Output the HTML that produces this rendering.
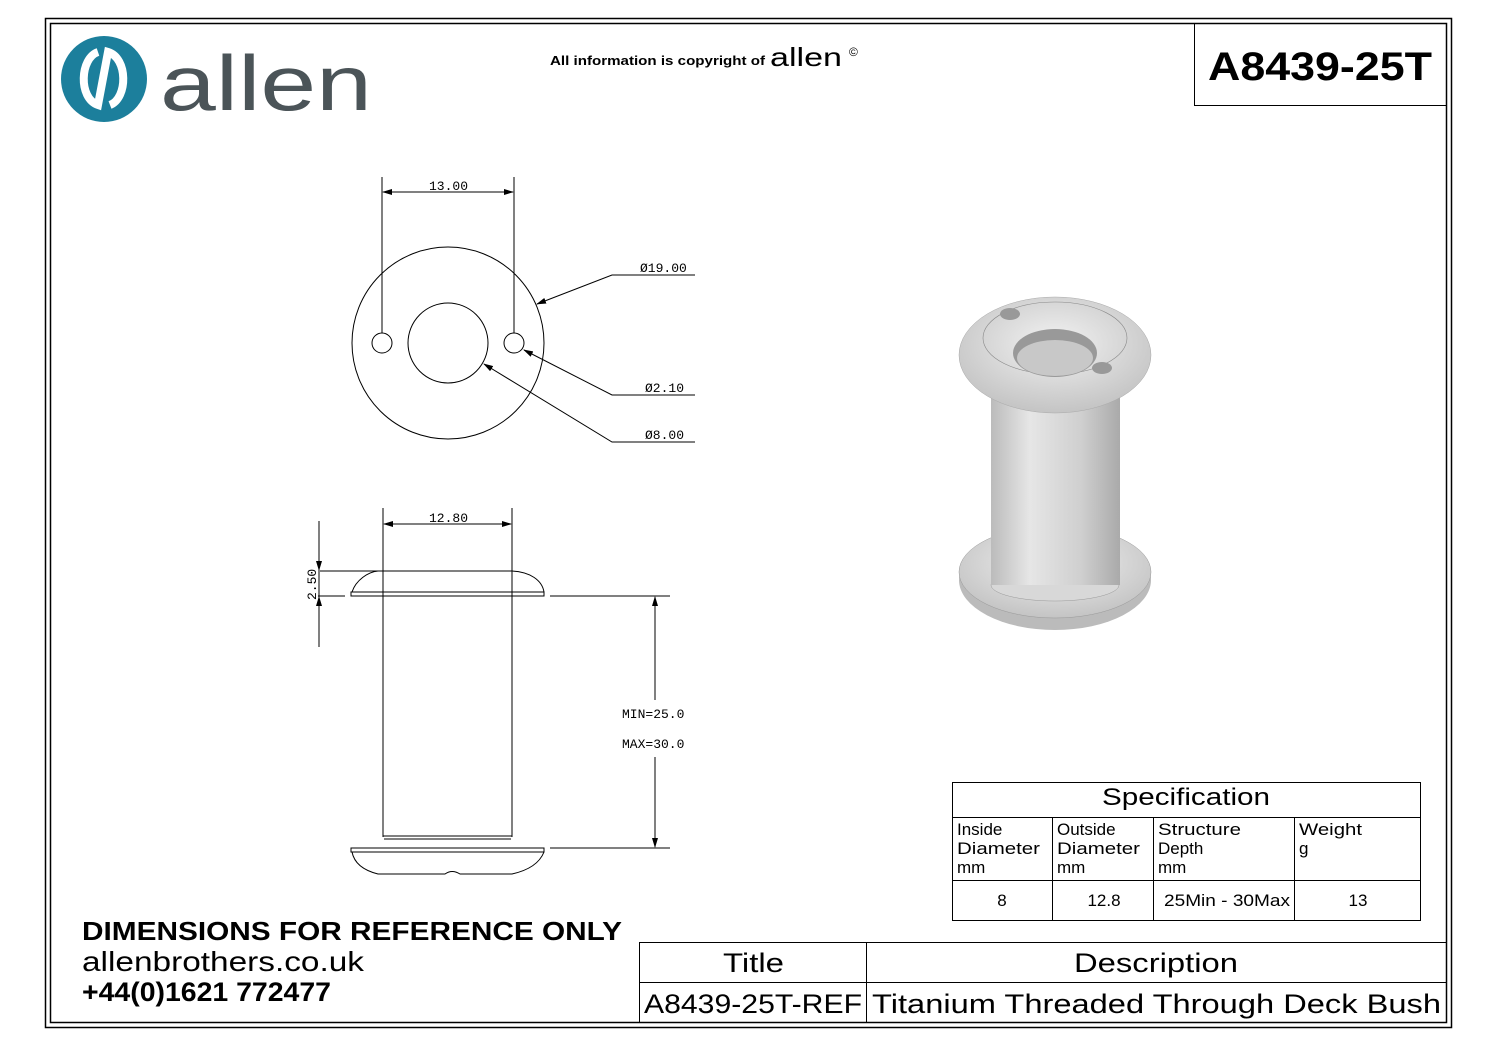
<!DOCTYPE html>
<html><head><style>
body{margin:0;background:#fff;}
svg{display:block;}
.d{font-family:"Liberation Mono",monospace;font-size:13px;}
.s{font-family:"Liberation Sans",sans-serif;}
</style></head><body>
<svg width="1497" height="1058" viewBox="0 0 1497 1058" xmlns="http://www.w3.org/2000/svg">
<defs>
<marker id="a" markerWidth="10" markerHeight="6" refX="9" refY="3" orient="auto" markerUnits="userSpaceOnUse"><path d="M0,0 L10,3 L0,6Z" fill="#000"/></marker>
<linearGradient id="g" x1="0" x2="1"><stop offset="0" stop-color="#bbb"/><stop offset="0.3" stop-color="#e6e6e6"/><stop offset="0.7" stop-color="#cfcfcf"/><stop offset="1" stop-color="#aaa"/></linearGradient>
<radialGradient id="r" cx="0.5" cy="0.4" r="0.6"><stop offset="0" stop-color="#f2f2f2"/><stop offset="1" stop-color="#c4c4c4"/></radialGradient>
</defs>
<rect x="45.5" y="18.5" width="1406" height="1009" fill="none" stroke="#000" stroke-width="1.5"/>
<rect x="50.5" y="23.5" width="1396" height="999" fill="none" stroke="#000" stroke-width="1.5"/>
<!-- logo -->
<circle cx="104" cy="79" r="43" fill="#1c7f9c"/>
<path d="M98,52 C80,58 78,98 98,105 L108,52 C128,58 128,98 110,105" fill="none" stroke="#fff" stroke-width="8"/>
<text x="160" y="110" class="s" font-size="78" fill="#4b5458" textLength="212" lengthAdjust="spacingAndGlyphs">allen</text>
<text x="550" y="65" class="s" font-size="13" font-weight="bold" textLength="215" lengthAdjust="spacingAndGlyphs">All information is copyright of</text>
<text x="770" y="66" class="s" font-size="26" textLength="72" lengthAdjust="spacingAndGlyphs">allen</text>
<text x="849" y="56" class="s" font-size="12">©</text>
<rect x="1194.5" y="23.5" width="252" height="82" fill="none" stroke="#000"/>
<text x="1208" y="80" class="s" font-size="40" font-weight="bold" textLength="224" lengthAdjust="spacingAndGlyphs">A8439-25T</text>
<!-- top view -->
<g fill="none" stroke="#000" stroke-width="1">
<circle cx="448" cy="343" r="96"/>
<circle cx="448" cy="343" r="40"/>
<circle cx="382" cy="343" r="10"/>
<circle cx="514" cy="343" r="10"/>
<line x1="382" y1="177" x2="382" y2="333"/>
<line x1="514" y1="177" x2="514" y2="333"/>
<line x1="383" y1="192" x2="513" y2="192" marker-end="url(#a)"/>
<line x1="513" y1="192" x2="383" y2="192" marker-end="url(#a)"/>
<polyline points="695,275 612,275 537,304" marker-end="url(#a)"/>
<polyline points="695,395 612,395 524,350" marker-end="url(#a)"/>
<polyline points="695,442 612,442 484,364" marker-end="url(#a)"/>
</g>
<text x="429" y="190" class="d">13.00</text>
<text x="640" y="272" class="d">Ø19.00</text>
<text x="645" y="392" class="d">Ø2.10</text>
<text x="645" y="439" class="d">Ø8.00</text>
<!-- side view -->
<g fill="none" stroke="#000" stroke-width="1">
<line x1="383" y1="508" x2="383" y2="837"/>
<line x1="512" y1="508" x2="512" y2="837"/>
<line x1="384" y1="524" x2="511" y2="524" marker-end="url(#a)"/>
<line x1="511" y1="524" x2="384" y2="524" marker-end="url(#a)"/>
<path d="M352,592 C356,580 368,572 378,571 L512,571 C530,572 542,580 544,592"/>
<rect x="351" y="592" width="193" height="4"/>
<line x1="320" y1="571" x2="383" y2="571"/>
<line x1="318" y1="596" x2="345" y2="596"/>
<line x1="550" y1="596" x2="670" y2="596"/>
<line x1="550" y1="848" x2="670" y2="848"/>
<line x1="319" y1="521" x2="319" y2="647"/>
<line x1="319" y1="540" x2="319" y2="570" marker-end="url(#a)"/>
<line x1="319" y1="628" x2="319" y2="597" marker-end="url(#a)"/>
<line x1="655" y1="700" x2="655" y2="597" marker-end="url(#a)"/>
<line x1="655" y1="757" x2="655" y2="847" marker-end="url(#a)"/>
<line x1="383" y1="836" x2="512" y2="836"/>
<line x1="384" y1="839" x2="511" y2="839"/>
<line x1="383" y1="848" x2="512" y2="848"/>
<rect x="351" y="848" width="193" height="4"/>
<path d="M352,852 C354,862 362,870 378,874 L445,874 Q452,869 460,874 L512,874 C530,870 540,862 544,852"/>
</g>
<text x="429" y="522" class="d">12.80</text>
<text x="316" y="600" class="d" transform="rotate(-90 316 600)">2.50</text>
<text x="622" y="718" class="d">MIN=25.0</text>
<text x="622" y="748" class="d">MAX=30.0</text>
<!-- 3D render -->
<ellipse cx="1055" cy="580" rx="96" ry="50" fill="#bbb"/>
<ellipse cx="1055" cy="572" rx="96" ry="46" fill="url(#r)" stroke="#999" stroke-width="0.5"/>
<rect x="991" y="380" width="129" height="205" fill="url(#g)"/>
<ellipse cx="1055" cy="585" rx="64" ry="16" fill="#d8d8d8" stroke="#999" stroke-width="0.5"/>
<rect x="991" y="540" width="129" height="45" fill="url(#g)"/>
<ellipse cx="1055" cy="355" rx="96" ry="58" fill="url(#r)" stroke="#aaa" stroke-width="0.5"/>
<ellipse cx="1055" cy="338" rx="72" ry="36" fill="none" stroke="#888" stroke-width="0.6"/>
<ellipse cx="1055" cy="353" rx="42" ry="24" fill="#999"/>
<ellipse cx="1055" cy="358" rx="38" ry="18" fill="#c8c8c8"/>
<ellipse cx="1010" cy="314" rx="10" ry="6" fill="#999"/>
<ellipse cx="1102" cy="368" rx="10" ry="6" fill="#999"/>
<!-- spec table -->
<g fill="none" stroke="#000" stroke-width="1">
<rect x="952.5" y="782.5" width="468" height="138"/>
<line x1="952" y1="817.5" x2="1420" y2="817.5"/>
<line x1="952" y1="880.5" x2="1420" y2="880.5"/>
<line x1="1052.5" y1="817" x2="1052.5" y2="920"/>
<line x1="1153.5" y1="817" x2="1153.5" y2="920"/>
<line x1="1294.5" y1="817" x2="1294.5" y2="920"/>
</g>
<g class="s" font-size="17">
<text x="1102" y="805" font-size="24" textLength="168" lengthAdjust="spacingAndGlyphs">Specification</text>
<text x="957" y="835">Inside</text><text x="957" y="854" textLength="83" lengthAdjust="spacingAndGlyphs">Diameter</text><text x="957" y="873">mm</text>
<text x="1057" y="835">Outside</text><text x="1057" y="854" textLength="83" lengthAdjust="spacingAndGlyphs">Diameter</text><text x="1057" y="873">mm</text>
<text x="1158" y="835" textLength="83" lengthAdjust="spacingAndGlyphs">Structure</text><text x="1158" y="854">Depth</text><text x="1158" y="873">mm</text>
<text x="1299" y="835" textLength="63" lengthAdjust="spacingAndGlyphs">Weight</text><text x="1299" y="854">g</text>
<text x="1002" y="906" text-anchor="middle">8</text>
<text x="1104" y="906" text-anchor="middle">12.8</text>
<text x="1164" y="906" textLength="126" lengthAdjust="spacingAndGlyphs">25Min - 30Max</text>
<text x="1358" y="906" text-anchor="middle">13</text>
</g>
<!-- bottom left -->
<g class="s" font-weight="bold" font-size="26">
<text x="82" y="940" textLength="540" lengthAdjust="spacingAndGlyphs">DIMENSIONS FOR REFERENCE ONLY</text>
<text x="82" y="971" font-weight="normal" font-size="28" textLength="282" lengthAdjust="spacingAndGlyphs">allenbrothers.co.uk</text>
<text x="82" y="1001" font-size="27" textLength="249" lengthAdjust="spacingAndGlyphs">+44(0)1621 772477</text>
</g>
<!-- title block -->
<g fill="none" stroke="#000" stroke-width="1">
<rect x="639.5" y="942.5" width="807" height="80"/>
<line x1="639" y1="982.5" x2="1446" y2="982.5"/>
<line x1="866.5" y1="942" x2="866.5" y2="1022"/>
</g>
<g class="s" font-size="27">
<text x="723" y="972" textLength="61" lengthAdjust="spacingAndGlyphs">Title</text>
<text x="1074" y="972" textLength="164" lengthAdjust="spacingAndGlyphs">Description</text>
<text x="644" y="1013" textLength="218" lengthAdjust="spacingAndGlyphs">A8439-25T-REF</text>
<text x="872" y="1013" textLength="569" lengthAdjust="spacingAndGlyphs">Titanium Threaded Through Deck Bush</text>
</g>
</svg>
</body></html>
